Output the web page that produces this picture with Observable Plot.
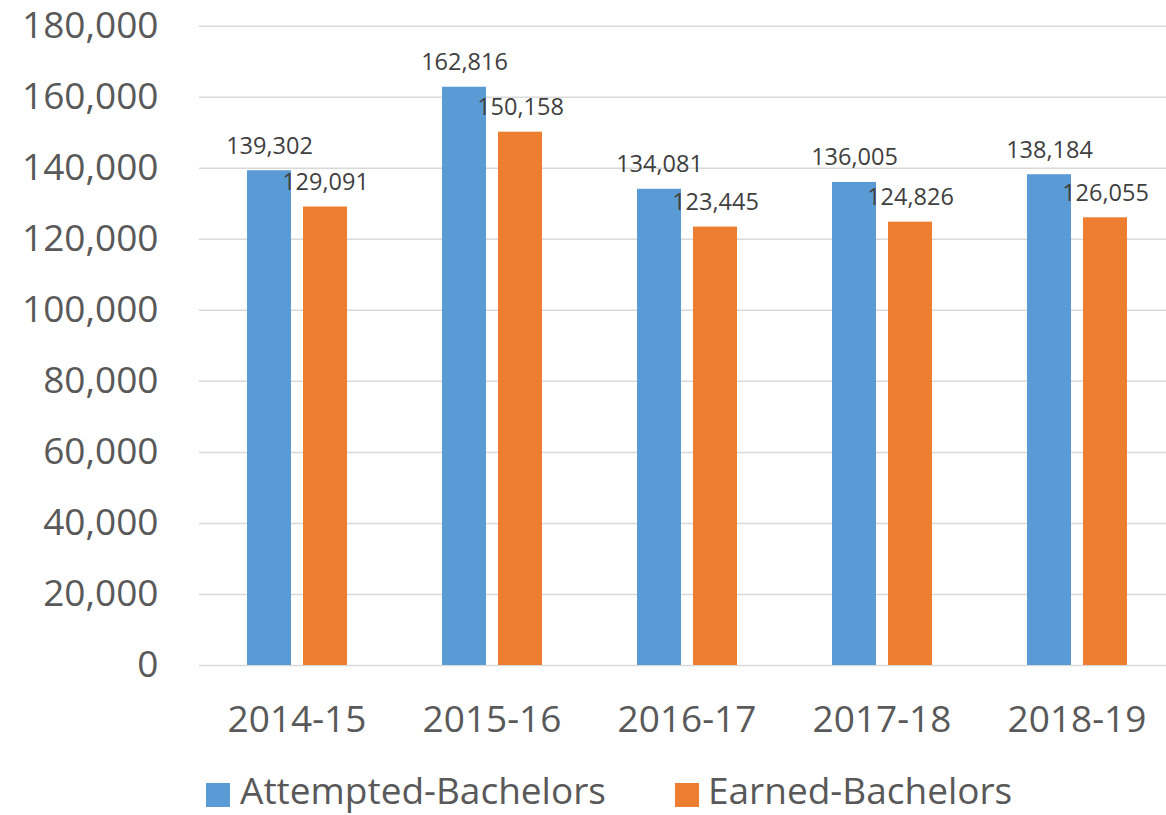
<!DOCTYPE html>
<html>
<head>
<meta charset="utf-8">
<script src="https://cdn.jsdelivr.net/npm/d3@7"></script>
<script src="https://cdn.jsdelivr.net/npm/@observablehq/plot@0.6"></script>
<style>
  html, body { margin: 0; padding: 0; background: #ffffff; }
  #wrap { position: relative; width: 1166px; height: 815px; font-family: "Open Sans", sans-serif; }
  #wrap svg { position: absolute; left: 0; top: 0; }
  .sw { position: absolute; width: 24px; height: 24px; top: 783px; }
  .lt { position: absolute; top: 771px; font-size: 37px; line-height: 37px; color: #595959; white-space: nowrap; }
</style>
</head>
<body>
<div id="wrap"></div>
<script>
const years = ["2014-15", "2015-16", "2016-17", "2017-18", "2018-19"];
const series = ["Attempted-Bachelors", "Earned-Bachelors"];
const attempted = [139302, 162816, 134081, 136005, 138184];
const earned = [129091, 150158, 123445, 124826, 126055];
const colors = ["#5b9bd5", "#ed7d31"];
const yTicks = [0, 20000, 40000, 60000, 80000, 100000, 120000, 140000, 160000, 180000];

const data = years.flatMap((yr, i) => [
  {year: yr, series: series[0], value: attempted[i]},
  {year: yr, series: series[1], value: earned[i]}
]);

const fmt = d3.format(",");

const chart = Plot.plot({
  width: 1166,
  height: 760,
  marginLeft: 199,
  marginRight: 0,
  marginTop: 25.7,
  marginBottom: 95,
  style: {fontFamily: '"Open Sans", sans-serif', fontSize: "37px", color: "#595959", background: "transparent", overflow: "visible"},
  fx: {domain: years, range: [199, 1174], padding: 0, label: null},
  x: {domain: series, range: [246.5, 346.5], paddingInner: 12 / 56, paddingOuter: 0, axis: null},
  y: {domain: [0, 180000], label: null},
  color: {domain: series, range: colors},
  marks: [
    Plot.gridY(yTicks, {stroke: "#d9d9d9", strokeOpacity: 1, strokeWidth: 1.5}),
    Plot.axisY(yTicks, {tickSize: 0, tickPadding: 41, tickFormat: fmt, label: null, fill: "#595959", fontSize: 37}),
    Plot.axisFx({anchor: "bottom", tickSize: 0, tickPadding: 40, label: null, fill: "#595959", fontSize: 37}),
    Plot.barY(data, {fx: "year", x: "series", y: "value", fill: "series"}),
    Plot.text(data, {fx: "year", x: "series", y: "value", text: d => fmt(d.value), dy: -17, lineAnchor: "bottom", fontSize: 23.5, fill: "#404040"})
  ]
});

const wrap = document.getElementById("wrap");
wrap.appendChild(chart);

const legendPos = [{sq: 206, tx: 240}, {sq: 675, tx: 708}];
series.forEach((s, i) => {
  const sw = document.createElement("div");
  sw.className = "sw";
  sw.style.left = legendPos[i].sq + "px";
  sw.style.background = colors[i];
  wrap.appendChild(sw);
  const t = document.createElement("div");
  t.className = "lt";
  t.style.left = legendPos[i].tx + "px";
  t.textContent = s;
  wrap.appendChild(t);
});
</script>
</body>
</html>
